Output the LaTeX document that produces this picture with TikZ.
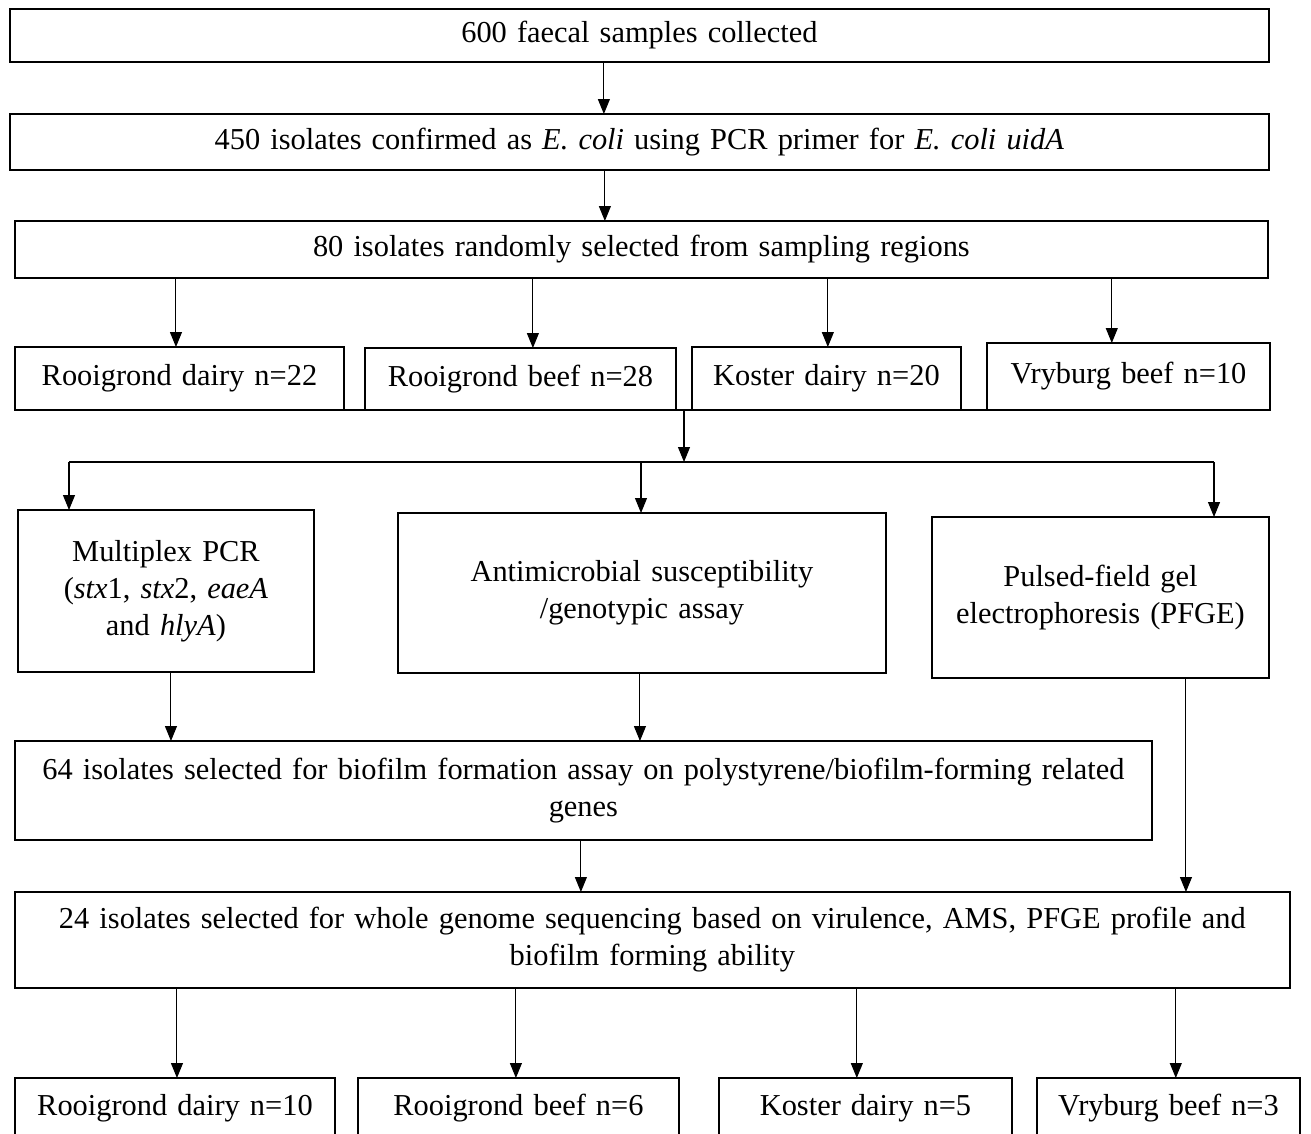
\documentclass[tikz,border=0pt]{standalone}
\usepackage{fontspec}
\setmainfont{Liberation Serif}
\usepackage{tikz}
\usetikzlibrary{arrows.meta,positioning,calc}
\tikzstyle{block} = [rectangle, draw, line width=0.9pt, align=center, outer sep=0pt, inner sep=0pt, anchor=north west, font=\fontsize{17.3pt}{21pt}\selectfont]
\tikzstyle{arrow} = [line width=0.6pt, -{Triangle[length=0.3cm, width=0.24cm]}]
\tikzstyle{branch} = [line width=0.9pt]

\begin{document}
\begin{tikzpicture}[x=0.02cm, y=-0.02cm]
    \useasboundingbox (0,0) rectangle (1311,1133);
    \node[block, text width=25.18cm, minimum height=1.06cm] (coll) at (10,9) {600 faecal samples collected};
    \node[block, text width=25.18cm, minimum height=1.12cm] (ecoli) at (10,114) {450 isolates confirmed as \textit{E. coli} using PCR primer for \textit{E. coli uidA}};
    \node[block, text width=25.06cm, minimum height=1.14cm] (rand) at (15,221) {80 isolates randomly selected from sampling regions};

    \node[block, text width=6.58cm, minimum height=1.26cm] (rdA) at (15,347) {Rooigrond dairy n=22};
    \node[block, text width=6.22cm, minimum height=1.24cm] (rbA) at (365,348) {Rooigrond beef n=28};
    \node[block, text width=5.38cm, minimum height=1.26cm] (kdA) at (692,347) {Koster dairy n=20};
    \node[block, text width=5.66cm, minimum height=1.34cm] (vbA) at (987,343) {Vryburg beef n=10};

    \node[block, text width=5.92cm, minimum height=3.24cm] (mpcr) at (18,510) {Multiplex PCR\\(\textit{stx}1, \textit{stx}2, \textit{eaeA}\\and \textit{hlyA})};
    \node[block, text width=9.76cm, minimum height=3.2cm] (ams) at (398,513) {Antimicrobial susceptibility\\/genotypic assay};
    \node[block, text width=6.74cm, minimum height=3.22cm] (pfge) at (932,517) {Pulsed-field gel\\electrophoresis (PFGE)};

    \node[block, text width=22.74cm, minimum height=1.98cm] (bio) at (15,741) {64 isolates selected for biofilm formation assay on polystyrene/biofilm-forming related\\genes};
    \node[block, text width=25.5cm, minimum height=1.92cm] (wgs) at (15,892) {24 isolates selected for whole genome sequencing based on virulence, AMS, PFGE profile and\\biofilm forming ability};

    \node[block, text width=6.4cm, minimum height=1.2cm] (rdB) at (15,1078) {Rooigrond dairy n=10};
    \node[block, text width=6.42cm, minimum height=1.2cm] (rbB) at (358,1078) {Rooigrond beef n=6};
    \node[block, text width=5.86cm, minimum height=1.2cm] (kdB) at (719,1078) {Koster dairy n=5};
    \node[block, text width=5.26cm, minimum height=1.2cm] (vbB) at (1037,1078) {Vryburg beef n=3};

    % top chain
    \draw[arrow] ([xshift=11.88cm]coll.south west) coordinate (a1) -- (a1 |- ecoli.north);
    \draw[arrow] ([xshift=11.9cm]ecoli.south west) coordinate (a2) -- (a2 |- rand.north);
    \foreach \s/\t in {3.22cm/rdA, 10.36cm/rbA, 16.26cm/kdA, 21.94cm/vbA}
        \draw[arrow] ([xshift=\s]rand.south west) coordinate (tmp) -- (tmp |- \t.north);

    % split to the three assays
    \draw[branch] (rdA.south west) -- (vbA.south east);
    \coordinate (split) at (684,462);
    \coordinate (lbr) at (69,462);
    \coordinate (mbr) at (641,462);
    \coordinate (rbr) at (1214,462);
    \draw[arrow] (rdA.south -| split) -- (split);
    \draw[branch] (lbr) -- (rbr);
    \draw[arrow] (lbr) -- (lbr |- mpcr.north);
    \draw[arrow] (mbr) -- (mbr |- ams.north);
    \draw[arrow] (rbr) -- (rbr |- pfge.north);

    \draw[arrow] ([xshift=3.06cm]mpcr.south west) coordinate (a3) -- (a3 |- bio.north);
    \draw[arrow] ([xshift=4.84cm]ams.south west) coordinate (a4) -- (a4 |- bio.north);
    \draw[arrow] ([xshift=5.08cm]pfge.south west) coordinate (a5) -- (a5 |- wgs.north);
    \draw[arrow] ([xshift=11.32cm]bio.south west) coordinate (a6) -- (a6 |- wgs.north);

    % sequenced isolates per region
    \foreach \s/\t in {3.24cm/rdB, 10.02cm/rbB, 16.84cm/kdB, 23.22cm/vbB}
        \draw[arrow] ([xshift=\s]wgs.south west) coordinate (tmp) -- (tmp |- \t.north);
\end{tikzpicture}
\end{document}
